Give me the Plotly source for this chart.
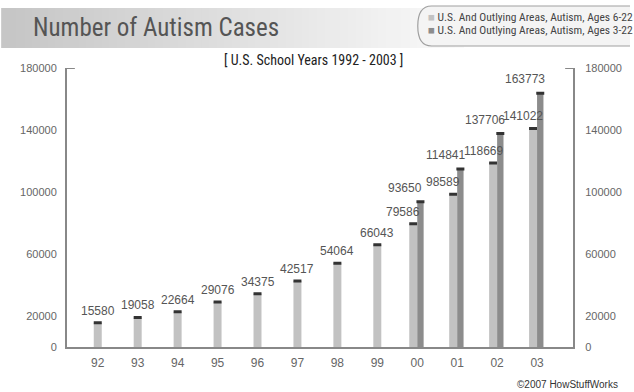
import plotly.graph_objects as go

# ---- data ----
years = ["92", "93", "94", "95", "96", "97", "98", "99", "00", "01", "02", "03"]
ages_6_22 = [15580, 19058, 22664, 29076, 34375, 42517, 54064, 66043, 79586, 98589, 118669, 141022]
ages_3_22 = [None, None, None, None, None, None, None, None, 93650, 114841, 137706, 163773]
y_ticks = [0, 20000, 60000, 100000, 140000, 180000]
series_names = ["U.S. And Outlying Areas, Autism, Ages 6-22",
                "U.S. And Outlying Areas, Autism, Ages 3-22"]
title_text = "Number of Autism Cases"
subtitle_text = "[ U.S. School Years 1992 - 2003 ]"
credit_text = "©2007 HowStuffWorks"

LIGHT = "#c2c2c2"
DARK = "#8c8c8c"
CAP = "#333333"
NARROW = "Liberation Sans Narrow, Arial Narrow, Roboto Condensed, sans-serif"
SANS = "Liberation Sans, Arial, sans-serif"

W = 634
H = 392
ML, MR, MT, MB = 67, 52, 68, 45
PW = W - ML - MR
PH = H - MT - MB

def px_x(px):
    return (px - ML) / PW

def px_y(py):
    return (H - MB - py) / PH

has_pair = [v is not None for v in ages_3_22]
light_offset = [-0.2 if p else -0.1 for p in has_pair]
light_width = [0.2] * len(years)

fig = go.Figure()
fig.add_trace(go.Bar(
    x=years, y=ages_6_22, name=series_names[0],
    marker=dict(color=LIGHT, line=dict(width=0)),
    offset=light_offset, width=light_width,
    error_y=dict(type="data", array=[0] * len(years), width=4, thickness=3, color=CAP),
    showlegend=False,
))
fig.add_trace(go.Bar(
    x=years, y=ages_3_22, name=series_names[1],
    marker=dict(color=DARK, line=dict(width=0)),
    offset=0.0, width=0.16,
    error_y=dict(type="data", array=[0] * len(years), width=4, thickness=3, color=CAP),
    showlegend=False,
))
# invisible trace so the right-hand axis is drawn
fig.add_trace(go.Bar(x=years, y=ages_6_22, yaxis="y2", opacity=0, showlegend=False,
                     hoverinfo="skip", offset=light_offset, width=light_width))

annotations = []
# value labels (x given as category index)
for i, v in enumerate(ages_6_22):
    annotations.append(dict(
        x=i, y=v, xref="x", yref="y", text=str(v), showarrow=False,
        yanchor="bottom", xanchor="center",
        xshift=(-14 if has_pair[i] else 0), yshift=3,
        font=dict(family=SANS, size=12, color="#555555")))
for i, v in enumerate(ages_3_22):
    if v is None:
        continue
    annotations.append(dict(
        x=i, y=v, xref="x", yref="y", text=str(v), showarrow=False,
        yanchor="bottom", xanchor="center", xshift=-12, yshift=5,
        font=dict(family=SANS, size=12, color="#555555")))

# title, subtitle, credit
annotations.append(dict(x=px_x(30), y=px_y(28), xref="paper", yref="paper",
                        text=title_text, showarrow=False, xanchor="left", yanchor="middle",
                        font=dict(family=NARROW, size=25, color="#555555")))
annotations.append(dict(x=px_x(318), y=px_y(60), xref="paper", yref="paper",
                        text=subtitle_text, showarrow=False, xanchor="center", yanchor="middle",
                        font=dict(family=NARROW, size=14, color="#222222")))
annotations.append(dict(x=px_x(630), y=px_y(384), xref="paper", yref="paper",
                        text=credit_text, showarrow=False, xanchor="right", yanchor="middle",
                        font=dict(family=SANS, size=10, color="#333333")))
# legend
for k, (nm, col) in enumerate(zip(series_names, [LIGHT, DARK])):
    annotations.append(dict(x=px_x(432), y=px_y(17 + 13 * k), xref="paper", yref="paper",
                            text=f"<span style='color:{col}'>■</span> {nm}", showarrow=False,
                            xanchor="left", yanchor="middle",
                            font=dict(family=NARROW, size=11.5, color="#444444")))

shapes = []
# header gradient band
n_steps = 60
x0, x1 = 0, 470
for s in range(n_steps):
    a = s / (n_steps - 1)
    g = int(198 + (250 - 198) * a)
    shapes.append(dict(type="rect", xref="paper", yref="paper",
                       x0=px_x(x0 + (x1 - x0) * s / n_steps),
                       x1=px_x(x0 + (x1 - x0) * (s + 1) / n_steps + 1),
                       y0=px_y(48), y1=px_y(8),
                       fillcolor=f"rgb({g},{g},{g})", line=dict(width=0), layer="below"))
# legend rounded box
path = (f"M {px_x(640)},{px_y(6)} L {px_x(438)},{px_y(6)} "
        f"Q {px_x(424)},{px_y(6)} {px_x(424)},{px_y(26)} "
        f"Q {px_x(424)},{px_y(46)} {px_x(438)},{px_y(46)} L {px_x(640)},{px_y(46)}")
shapes.append(dict(type="path", xref="paper", yref="paper", path=path,
                   fillcolor="#f4f4f4", line=dict(color="#a0a0a0", width=1.2), layer="below"))
# top tick marks on the axes
shapes.append(dict(type="line", xref="paper", yref="y", x0=0, x1=px_x(ML + 8),
                   y0=180000, y1=180000, line=dict(color="#888888", width=2)))
shapes.append(dict(type="line", xref="paper", yref="y", x0=1, x1=px_x(W - MR - 8),
                   y0=180000, y1=180000, line=dict(color="#888888", width=2)))

tickfont = dict(family=SANS, size=11, color="#666666")
fig.update_layout(
    width=W, height=H,
    margin=dict(l=ML, r=MR, t=MT, b=MB, pad=0),
    paper_bgcolor="white", plot_bgcolor="white",
    barmode="overlay",
    xaxis=dict(type="category", range=[-0.77, 11.9], showline=True, linecolor="#888888",
               linewidth=2, ticks="", showgrid=False, tickfont=dict(family=SANS, size=12, color="#666666"),
               ticklabelstandoff=4),
    yaxis=dict(range=[0, 180000], tickvals=y_ticks, ticktext=[str(t) for t in y_ticks],
               showline=True, linecolor="#888888", linewidth=2, showgrid=False, zeroline=False,
               ticks="", tickfont=tickfont, ticklabelstandoff=6),
    yaxis2=dict(range=[0, 180000], tickvals=y_ticks, ticktext=[str(t) for t in y_ticks],
                overlaying="y", side="right", showline=True, linecolor="#888888", linewidth=2,
                showgrid=False, zeroline=False, ticks="", tickfont=tickfont, ticklabelstandoff=8),
    annotations=annotations,
    shapes=shapes,
    showlegend=False,
)
fig.write_html("out.html")
